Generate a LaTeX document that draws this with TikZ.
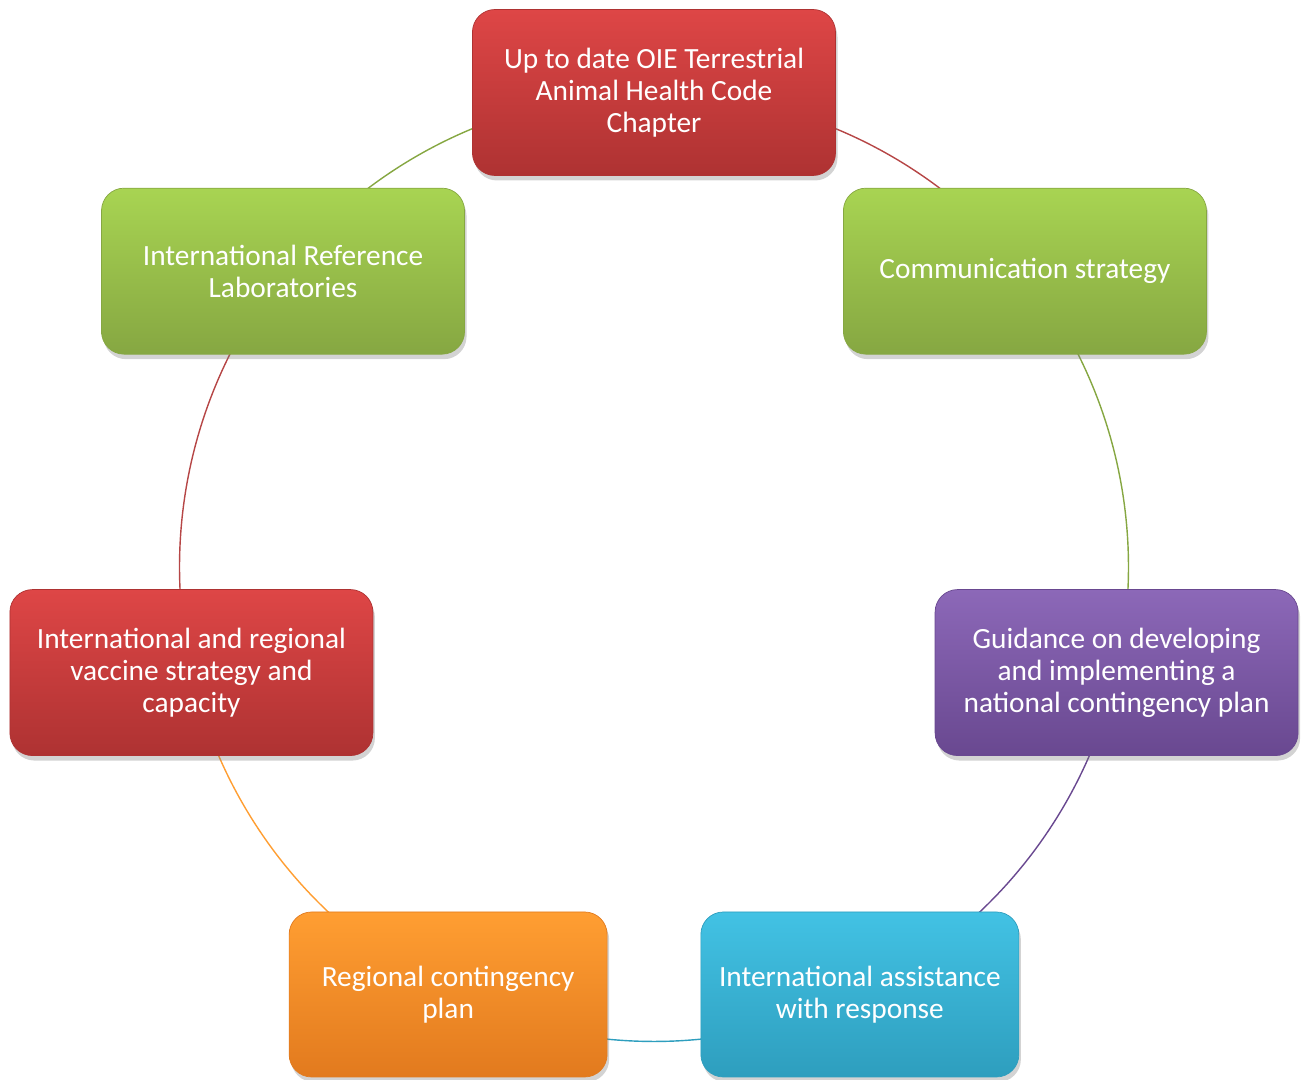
\documentclass[tikz,border=0pt]{standalone}
\usepackage{fontspec}
\setmainfont{Carlito}
\usetikzlibrary{shadows,backgrounds}
\definecolor{redtop}{HTML}{DE4646}
\definecolor{redbot}{HTML}{AE3232}
\definecolor{greentop}{HTML}{A8D452}
\definecolor{greenbot}{HTML}{86A742}
\definecolor{purpletop}{HTML}{8C68B8}
\definecolor{purplebot}{HTML}{694890}
\definecolor{cyantop}{HTML}{42C2E4}
\definecolor{cyanbot}{HTML}{2E9EBE}
\definecolor{orangetop}{HTML}{FF9E32}
\definecolor{orangebot}{HTML}{E27A1E}
\tikzset{
  cyclebox/.style={rounded corners=0.45cm, minimum width=7.26cm, minimum height=3.32cm,
    align=center, text=white, font=\fontsize{16.7}{18.2}\selectfont,
    drop shadow={shadow xshift=0.04cm, shadow yshift=-0.1cm, opacity=0.35}},
  link/.style={line width=0.8pt},
}
\begin{document}
\begin{tikzpicture}
\useasboundingbox (-13.08,-10.26) rectangle (13.04,11.34);
% boxes round the cycle
\node[cyclebox, draw=redbot, top color=redtop, bottom color=redbot] (code) at (90:9.49)
  {Up to date OIE Terrestrial\\Animal Health Code\\Chapter};
\node[cyclebox, draw=greenbot, top color=greentop, bottom color=greenbot] (comm) at (38.571:9.49)
  {Communication strategy};
\node[cyclebox, draw=purplebot, top color=purpletop, bottom color=purplebot] (guide) at (-12.857:9.49)
  {Guidance on developing\\and implementing a\\national contingency plan};
\node[cyclebox, minimum width=6.36cm, minimum height=3.3cm, draw=cyanbot, top color=cyantop, bottom color=cyanbot] (assist) at (-64.286:9.49)
  {International assistance\\with response};
\node[cyclebox, minimum width=6.36cm, minimum height=3.3cm, draw=orangebot, top color=orangetop, bottom color=orangebot] (region) at (-115.714:9.49)
  {Regional contingency\\plan};
\node[cyclebox, draw=redbot, top color=redtop, bottom color=redbot] (vaccine) at (-167.143:9.49)
  {International and regional\\vaccine strategy and\\capacity};
\node[cyclebox, draw=greenbot, top color=greentop, bottom color=greenbot] (labs) at (141.429:9.49)
  {International Reference\\Laboratories};
% arcs between the boxes
\begin{scope}[on background layer]
\draw[link, redbot!90] (code.center) arc[start angle=90, end angle=38.571, radius=9.49];
\draw[link, greenbot] (comm.center) arc[start angle=38.571, end angle=-12.857, radius=9.49];
\draw[link, purplebot] (guide.center) arc[start angle=-12.857, end angle=-64.286, radius=9.49];
\draw[link, cyanbot] (assist.center) arc[start angle=-64.286, end angle=-115.714, radius=9.49];
\draw[link, orangetop] (region.center) arc[start angle=-115.714, end angle=-167.143, radius=9.49];
\draw[link, redbot!90] (vaccine.center) arc[start angle=192.857, end angle=141.429, radius=9.49];
\draw[link, greenbot] (labs.center) arc[start angle=141.429, end angle=90, radius=9.49];
\end{scope}
\end{tikzpicture}
\end{document}
